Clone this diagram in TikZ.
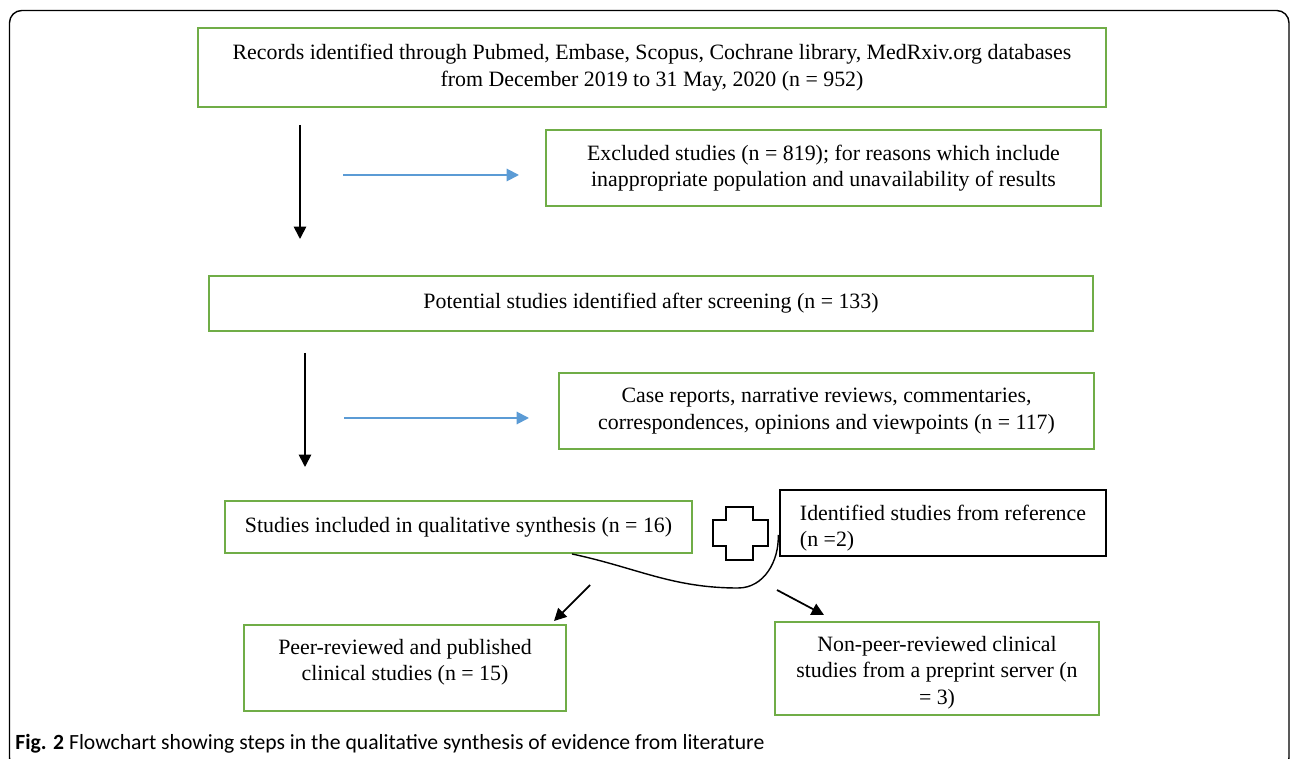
\documentclass[tikz,border=0pt]{standalone}
\usepackage{fontspec}
\setmainfont{Liberation Serif}
\newfontfamily\capfont{Carlito}
\usetikzlibrary{arrows.meta, positioning, calc}
\definecolor{boxGreen}{RGB}{112,173,71}
\definecolor{flowBlue}{RGB}{91,155,213}

\begin{document}
\begin{tikzpicture}[
  x=0.02cm, y=-0.02cm,
  gbox/.style={rectangle, draw=boxGreen, line width=1.1pt, align=center,
               font=\fontsize{12.45}{15}\selectfont, inner sep=0pt},
  kbox/.style={rectangle, draw=black, line width=0.9pt, align=left,
               font=\fontsize{12.45}{15}\selectfont, inner sep=0pt},
  arr/.style={-{Triangle[length=7pt,width=7pt]}, line width=1pt, black},
  barr/.style={-{Triangle[length=7pt,width=7pt]}, line width=1.1pt, flowBlue}
]
  \useasboundingbox (0,0) rectangle (1290,759);
  % outer frame
  \draw[line width=0.8pt, rounded corners=7pt] (9.5,10.5) rectangle (1289,770);

  \node[gbox, minimum width=18.16cm, minimum height=1.58cm] (rec) at (652,67.5)
    {Records identified through Pubmed, Embase, Scopus, Cochrane library, MedRxiv.org databases\\
     from December 2019 to 31 May, 2020 (n = 952)};
  \node[gbox, minimum width=11.1cm, minimum height=1.52cm] (excl) at (823.5,168)
    {Excluded studies (n = 819); for reasons which include\\
     inappropriate population and unavailability of results};
  \node[gbox, minimum width=17.68cm, minimum height=1.1cm] (pot) at (651,303.5)
    {Potential studies identified after screening (n = 133)};
  \node[gbox, minimum width=10.7cm, minimum height=1.52cm] (case) at (826.5,411)
    {Case reports, narrative reviews, commentaries,\\
     correspondences, opinions and viewpoints (n = 117)};
  \node[gbox, minimum width=9.34cm, minimum height=1.04cm] (incl) at (458.5,527)
    {Studies included in qualitative synthesis (n = 16)};
  \node[kbox, minimum width=6.52cm, minimum height=1.32cm] (ref) at (943,523)
    {\rule{0pt}{14.3pt}Identified studies from reference\\(n =2)};
  \node[gbox, minimum width=6.44cm, minimum height=1.72cm] (peer) at (405,668)
    {Peer-reviewed and published\\clinical studies (n = 15)\rule[-9.5pt]{0pt}{1pt}};
  \node[gbox, minimum width=6.48cm, minimum height=1.86cm] (npeer) at (937,668.5)
    {\rule{0pt}{13.2pt}Non-peer-reviewed clinical\\studies from a preprint server (n\\= 3)};

  % plus sign
  \draw[line width=0.9pt] (726,507) -- (753,507) -- (753,520) -- (768,520) -- (768,546)
    -- (753,546) -- (753,560) -- (726,560) -- (726,546) -- (713,546) -- (713,520)
    -- (726,520) -- cycle;

  % arrow ends
  \coordinate (d1s) at (300,125);  \coordinate (d1e) at (300,239);
  \coordinate (d2s) at (305,353);  \coordinate (d2e) at (305,467);
  \coordinate (b1s) at (343,175);  \coordinate (b1e) at (519,175);
  \coordinate (b2s) at (344,418);  \coordinate (b2e) at (529,418);
  \coordinate (l1s) at (590,585);  \coordinate (l1e) at (554,621);
  \coordinate (r1s) at (777,590);  \coordinate (r1e) at (824,615);

  \foreach \a/\b in {d1s/d1e, d2s/d2e, l1s/l1e, r1s/r1e}
    \draw[arr] (\a) -- (\b);
  \foreach \a/\b in {b1s/b1e, b2s/b2e}
    \draw[barr] (\a) -- (\b);

  % join of the two sources
  \draw[line width=0.8pt] ([xshift=2.27cm]incl.south)
    to[out=-12, in=180] (738,588) to[out=0, in=-88] ([xshift=-0.02cm, yshift=-0.24cm]ref.west);

  \node[anchor=base west, inner sep=0pt, font=\capfont\fontsize{12.33}{15}\selectfont] (cap)
    at (15,749) {\textbf{Fig. 2} Flowchart showing steps in the qualitative synthesis of evidence from literature};
\end{tikzpicture}
\end{document}
